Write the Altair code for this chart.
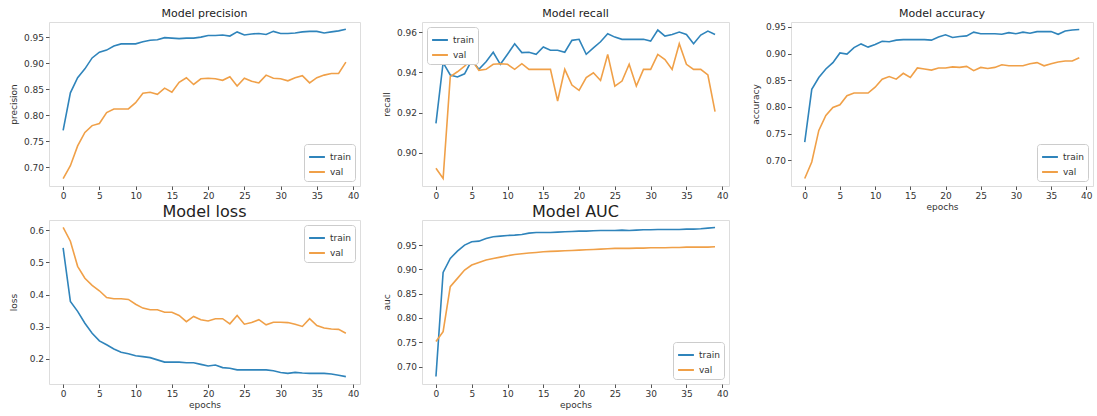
import altair as alt
import pandas as pd

epochs = list(range(40))

precision_train = [0.771, 0.843, 0.872, 0.889, 0.910, 0.921, 0.925, 0.933, 0.937, 0.937,
                   0.937, 0.941, 0.944, 0.945, 0.949, 0.948, 0.947, 0.948, 0.948, 0.950,
                   0.953, 0.953, 0.954, 0.952, 0.960, 0.954, 0.956, 0.957, 0.955, 0.961,
                   0.957, 0.957, 0.958, 0.960, 0.961, 0.961, 0.958, 0.960, 0.962, 0.965]
precision_val = [0.678, 0.703, 0.741, 0.767, 0.780, 0.784, 0.805, 0.812, 0.812, 0.812,
                 0.824, 0.842, 0.844, 0.840, 0.852, 0.844, 0.863, 0.872, 0.859, 0.870,
                 0.871, 0.870, 0.867, 0.874, 0.856, 0.871, 0.865, 0.862, 0.877, 0.871,
                 0.870, 0.866, 0.872, 0.876, 0.862, 0.872, 0.877, 0.880, 0.880, 0.902]

recall_train = [0.9147, 0.9448, 0.9387, 0.9377, 0.9393, 0.9460, 0.9415, 0.9453, 0.9500, 0.9440,
                0.9490, 0.9542, 0.9498, 0.9500, 0.9490, 0.9526, 0.9510, 0.9510, 0.9500, 0.9559,
                0.9564, 0.9490, 0.9522, 0.9552, 0.9592, 0.9575, 0.9564, 0.9564, 0.9564, 0.9564,
                0.9555, 0.9610, 0.9580, 0.9588, 0.9600, 0.9588, 0.9542, 0.9585, 0.9605, 0.9588]
recall_val = [0.8924, 0.8873, 0.9379, 0.9403, 0.9431, 0.9464, 0.9410, 0.9415, 0.9440, 0.9443,
              0.9440, 0.9415, 0.9443, 0.9415, 0.9415, 0.9415, 0.9415, 0.9258, 0.9415, 0.9337,
              0.9311, 0.9374, 0.9398, 0.9360, 0.9489, 0.9332, 0.9357, 0.9440, 0.9332, 0.9415,
              0.9415, 0.9489, 0.9464, 0.9415, 0.9542, 0.9440, 0.9415, 0.9415, 0.9387, 0.9205]

accuracy_train = [0.734, 0.833, 0.855, 0.871, 0.883, 0.901, 0.899, 0.911, 0.918, 0.912,
                  0.917, 0.923, 0.922, 0.925, 0.926, 0.926, 0.926, 0.926, 0.925, 0.931,
                  0.935, 0.930, 0.932, 0.933, 0.940, 0.937, 0.937, 0.937, 0.936, 0.939,
                  0.937, 0.940, 0.938, 0.941, 0.941, 0.941, 0.936, 0.942, 0.944, 0.945]
accuracy_val = [0.666, 0.697, 0.756, 0.784, 0.799, 0.804, 0.821, 0.826, 0.826, 0.826,
                0.837, 0.852, 0.857, 0.852, 0.863, 0.855, 0.873, 0.871, 0.869, 0.873,
                0.873, 0.875, 0.874, 0.876, 0.868, 0.874, 0.872, 0.874, 0.879, 0.877,
                0.877, 0.877, 0.881, 0.883, 0.877, 0.881, 0.884, 0.886, 0.886, 0.892]

loss_train = [0.545, 0.379, 0.348, 0.311, 0.280, 0.256, 0.244, 0.231, 0.221, 0.216,
              0.210, 0.207, 0.204, 0.197, 0.190, 0.190, 0.190, 0.188, 0.188, 0.183,
              0.178, 0.181, 0.173, 0.171, 0.166, 0.166, 0.166, 0.166, 0.166, 0.163,
              0.158, 0.155, 0.158, 0.156, 0.155, 0.155, 0.155, 0.153, 0.149, 0.145]
loss_val = [0.609, 0.566, 0.488, 0.451, 0.429, 0.412, 0.391, 0.387, 0.387, 0.385,
            0.370, 0.358, 0.353, 0.353, 0.345, 0.345, 0.335, 0.316, 0.332, 0.322,
            0.318, 0.325, 0.325, 0.309, 0.335, 0.308, 0.313, 0.322, 0.306, 0.314,
            0.314, 0.313, 0.308, 0.301, 0.325, 0.304, 0.296, 0.293, 0.292, 0.280]

auc_train = [0.6795, 0.8938, 0.9226, 0.9377, 0.9500, 0.9568, 0.9582, 0.9637, 0.9671, 0.9685,
             0.9699, 0.9705, 0.9719, 0.9747, 0.9760, 0.9760, 0.9760, 0.9767, 0.9774, 0.9781,
             0.9788, 0.9788, 0.9795, 0.9801, 0.9801, 0.9801, 0.9808, 0.9801, 0.9808, 0.9815,
             0.9815, 0.9822, 0.9822, 0.9822, 0.9822, 0.9829, 0.9829, 0.9836, 0.9850, 0.9863]
auc_val = [0.7514, 0.7719, 0.8644, 0.8815, 0.8986, 0.9089, 0.9144, 0.9192, 0.9226, 0.9253,
           0.9281, 0.9308, 0.9322, 0.9336, 0.9349, 0.9363, 0.9370, 0.9377, 0.9384, 0.9390,
           0.9397, 0.9404, 0.9411, 0.9418, 0.9425, 0.9432, 0.9432, 0.9432, 0.9438, 0.9438,
           0.9445, 0.9445, 0.9445, 0.9452, 0.9452, 0.9459, 0.9459, 0.9459, 0.9459, 0.9466]

series_names = ["train", "val"]
colors = ["#2f84bb", "#f0a048"]
FONT = "DejaVu Sans"
TXT = "#333333"


def panel(title, title_size, title_offset, ylabel, train, val, ydomain, yticks, yfmt,
          legend_orient, xtitle, width, height):
    df = pd.DataFrame({
        "epoch": epochs * 2,
        "value": list(train) + list(val),
        "series": ["train"] * len(train) + ["val"] * len(val),
    })
    x_axis = alt.Axis(values=[0, 5, 10, 15, 20, 25, 30, 35, 40], grid=False,
                      tickSize=3.5, labelPadding=2, labelFontSize=9, labelColor=TXT,
                      labelFont=FONT, titleFont=FONT, titleFontSize=9,
                      titleColor=TXT, titleFontWeight="normal", titlePadding=2,
                      domain=False, tickColor="#555555")
    x_enc = alt.X("epoch:Q", title=xtitle if xtitle else None, axis=x_axis,
                  scale=alt.Scale(domain=[-1.95, 40.95], nice=False, zero=False))
    y_axis = alt.Axis(values=yticks, format=yfmt, grid=False, tickSize=3.5,
                      labelPadding=2, labelFontSize=9, labelColor=TXT, labelFont=FONT,
                      titleFont=FONT, titleFontSize=9, titleColor=TXT,
                      titleFontWeight="normal", titlePadding=3, minExtent=28,
                      maxExtent=28, domain=False, tickColor="#555555")
    chart = alt.Chart(df).mark_line(strokeWidth=1.6, clip=True).encode(
        x=x_enc,
        y=alt.Y("value:Q", title=ylabel, axis=y_axis,
                scale=alt.Scale(domain=ydomain, nice=False, zero=False)),
        color=alt.Color("series:N",
                        scale=alt.Scale(domain=series_names, range=colors),
                        legend=alt.Legend(title=None, orient=legend_orient,
                                          symbolType="stroke", symbolStrokeWidth=2,
                                          symbolSize=250, labelFontSize=9,
                                          labelFont=FONT, labelColor=TXT,
                                          strokeColor="#cccccc", fillColor="white",
                                          padding=4, cornerRadius=3, offset=5,
                                          rowPadding=1)),
        order="series:N",
    ).properties(
        width=width, height=height,
        title=alt.TitleParams(title, fontSize=title_size, font=FONT,
                              fontWeight="normal", color="#222222",
                              offset=title_offset),
    )
    return chart


H = 164
p1 = panel("Model precision", 11, 3, "precision", precision_train, precision_val,
           [0.664, 0.979], [0.70, 0.75, 0.80, 0.85, 0.90, 0.95], ".2f",
           "bottom-right", None, 311, H)
p2 = panel("Model recall", 11, 3, "recall", recall_train, recall_val,
           [0.8836, 0.9650], [0.90, 0.92, 0.94, 0.96], ".2f",
           "top-left", None, 307, H)
p3 = panel("Model accuracy", 11, 3, "accuracy", accuracy_train, accuracy_val,
           [0.652, 0.959], [0.70, 0.75, 0.80, 0.85, 0.90, 0.95], ".2f",
           "bottom-right", "epochs", 302, H)
p4 = panel("Model loss", 16, 0, "loss", loss_train, loss_val,
           [0.122, 0.632], [0.2, 0.3, 0.4, 0.5, 0.6], ".1f",
           "top-right", "epochs", 311, H)
p5 = panel("Model AUC", 16, 0, "auc", auc_train, auc_val,
           [0.664, 1.0017], [0.70, 0.75, 0.80, 0.85, 0.90, 0.95], ".2f",
           "bottom-right", "epochs", 307, H)

chart = alt.concat(p1, p2, p3, p4, p5, columns=3,
                   spacing={"row": 34, "column": 62}, bounds="flush").resolve_scale(
    x="independent", y="independent", color="independent"
).resolve_legend(color="independent").configure_view(
    stroke="#444444", strokeWidth=1
).configure(
    background="white", padding={"left": 8, "top": 7, "right": 2, "bottom": 2}
)

chart.save("out.html", embed_options={"renderer": "svg", "actions": False})
